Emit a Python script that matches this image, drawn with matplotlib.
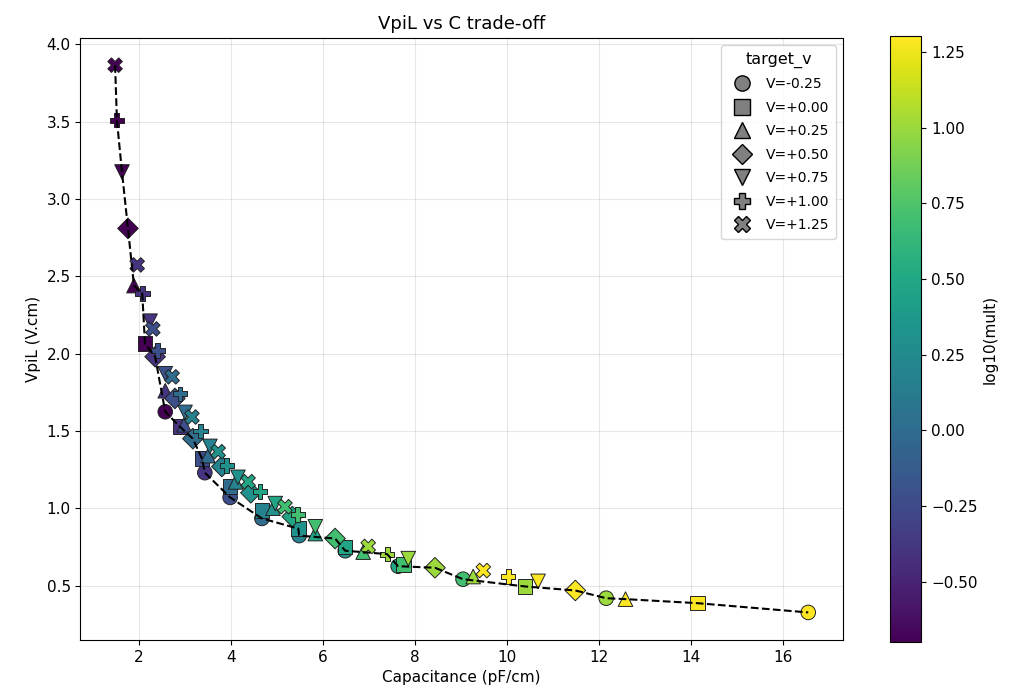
import numpy as np
import matplotlib
matplotlib.use("Agg")
import matplotlib.pyplot as plt
from matplotlib.lines import Line2D
from matplotlib.colors import Normalize

# ---- data ----
mult = [0.2, 0.4, 0.6, 1.0, 1.5, 2.0, 3.0, 5.0, 10.0, 20.0]
target_v = [-0.25, 0.00, 0.25, 0.50, 0.75, 1.00, 1.25]
markers = ['o', 's', '^', 'D', 'v', 'P', 'X']

C_m025 = [2.57, 3.43, 3.98, 4.67, 5.48, 6.48, 7.63, 9.04, 12.15, 16.54]
V_m025 = [1.624, 1.23, 1.07, 0.934, 0.823, 0.725, 0.625, 0.541, 0.418, 0.326]

C_000 = [2.13, 2.89, 3.37, 3.98, 4.67, 5.46, 6.48, 7.75, 10.39, 14.13]
V_000 = [2.064, 1.527, 1.32, 1.14, 0.985, 0.868, 0.75, 0.635, 0.494, 0.386]

C_025 = [1.89, 2.57, 2.98, 3.50, 4.10, 4.91, 5.83, 6.87, 9.26, 12.57]
V_025 = [2.44, 1.76, 1.54, 1.34, 1.17, 1.00, 0.836, 0.716, 0.558, 0.412]

C_050 = [1.76, 2.35, 2.78, 3.17, 3.80, 4.43, 5.33, 6.26, 8.43, 11.48]
V_050 = [2.81, 1.98, 1.71, 1.45, 1.27, 1.10, 0.946, 0.804, 0.615, 0.468]

C_075 = [1.63, 2.24, 2.57, 3.00, 3.54, 4.15, 4.96, 5.83, 7.85, 10.67]
V_075 = [3.175, 2.21, 1.87, 1.62, 1.40, 1.20, 1.03, 0.88, 0.674, 0.527]

C_100 = [1.52, 2.07, 2.41, 2.89, 3.33, 3.91, 4.63, 5.45, 7.39, 10.02]
V_100 = [3.51, 2.39, 2.02, 1.74, 1.50, 1.275, 1.108, 0.96, 0.703, 0.559]

C_125 = [1.48, 1.96, 2.30, 2.72, 3.15, 3.72, 4.37, 5.17, 6.98, 9.48]
V_125 = [3.866, 2.574, 2.16, 1.85, 1.59, 1.366, 1.172, 1.01, 0.753, 0.597]

C_all = [C_m025, C_000, C_025, C_050, C_075, C_100, C_125]
V_all = [V_m025, V_000, V_025, V_050, V_075, V_100, V_125]

# ---- figure ----
fig = plt.figure(figsize=(10.18, 7.0), dpi=100)
ax = fig.add_axes([0.079, 0.086, 0.749, 0.860])
cax = fig.add_axes([0.874, 0.083, 0.031, 0.865])

logm = np.log10(np.array(mult))
norm = Normalize(vmin=logm.min(), vmax=logm.max())
cmap = plt.get_cmap('viridis')

sc = None
for tv, mk, cs, vs in zip(target_v, markers, C_all, V_all):
    sc = ax.scatter(cs, vs, c=logm, cmap=cmap, norm=norm, marker=mk, s=110,
                    edgecolors='#222222', linewidths=0.7, zorder=2)

# Pareto front (minimise both C and VpiL)
allC = np.concatenate([np.array(c) for c in C_all])
allV = np.concatenate([np.array(v) for v in V_all])
order = np.lexsort((allV, allC))
fc, fv = [], []
best = np.inf
for i in order:
    if allV[i] < best:
        best = allV[i]
        fc.append(allC[i]); fv.append(allV[i])
ax.plot(fc, fv, 'k--', lw=1.5, zorder=3)

ax.set_title('VpiL vs C trade-off', fontsize=13)
ax.set_xlabel('Capacitance (pF/cm)', fontsize=11)
ax.set_ylabel('VpiL (V.cm)', fontsize=11)
ax.tick_params(labelsize=11)
ax.grid(True, alpha=0.3)

handles = [Line2D([0], [0], marker=mk, linestyle='none', markerfacecolor='gray',
                  markeredgecolor='black', markersize=11 if mk != 'D' else 10)
           for mk in markers]
labels = ['V=%+.2f' % tv for tv in target_v]
leg = ax.legend(handles, labels, title='target_v', loc='upper right',
                fontsize=10, title_fontsize=11.5, labelspacing=0.68,
                handletextpad=0.7, borderpad=0.5)

cb = fig.colorbar(sc, cax=cax)
cb.set_label('log10(mult)', fontsize=11)
cb.ax.tick_params(labelsize=11)

fig.savefig('out.png', dpi=100)
